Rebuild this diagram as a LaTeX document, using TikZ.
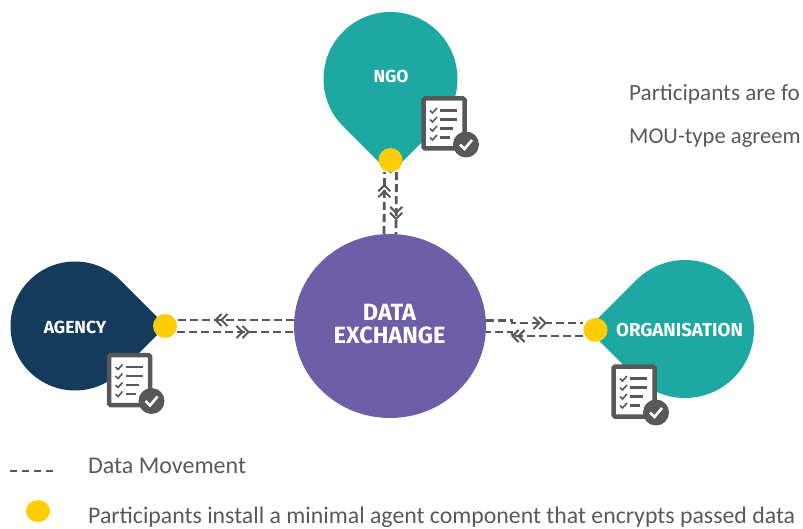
\documentclass[tikz,border=0pt]{standalone}
\usepackage{fontspec}
\setmainfont{Carlito}
\newfontfamily\labelfont{Fira Sans}
\usetikzlibrary{positioning, shapes.geometric, arrows.meta, decorations.markings}
\definecolor{teal}{HTML}{1DA9A1}
\definecolor{navy}{HTML}{143A5C}
\definecolor{violet}{HTML}{6E5EA8}
\definecolor{amber}{HTML}{FFCD05}
\definecolor{iconGrey}{HTML}{58585A}
\definecolor{textGrey}{HTML}{595959}
\tikzset{
    title/.style={text=white, font=\labelfont\bfseries\fontsize{17.5}{17.5}\selectfont},
    note/.style={anchor=base west, inner sep=0pt, text=textGrey, font=\fontsize{23.2}{24}\selectfont},
    agent/.style={circle, fill=amber, minimum size=24pt, inner sep=0pt},
    dataline/.style={draw=iconGrey, line width=2.8pt, dash pattern=on 8pt off 4pt},
    flow/.style={postaction={decorate, decoration={markings, mark=at position #1 with {%
        \draw[solid, iconGrey, line width=2pt] (-6,-6) -- (0,0) -- (-6,6) (0,-6) -- (6,0) -- (0,6);}}}},
    pics/teardrop/.style={code={%
        \fill[pic actions] (45:#1) arc[start angle=45, end angle=315, radius=#1] -- ({1.414*#1},0) -- cycle;}},
    pics/checklist/.style={code={%
        \draw[iconGrey, fill=white, line width=4.5pt, rounded corners=1.5pt] (-20.5,-25) rectangle (20.5,25);
        \foreach \row/\len in {-13/13, -4/13, 5/9, 14/6} {
            \draw[iconGrey, line width=1.6pt] (-14,\row) -- (-11.5,\row+2.5) -- (-7,\row-2.5);
            \draw[iconGrey, line width=2.4pt] (-4,\row) -- (\len,\row);
        }
        \fill[iconGrey] (22,21) circle (13);
        \draw[white, line width=2.6pt] (16,21) -- (20.5,25.5) -- (28,16.5);}},
}
\begin{document}
\begin{tikzpicture}[x=1pt, y=-1pt]
    \useasboundingbox (0,0) rectangle (803,529);
    \pic[fill=teal, rotate=-90] at (390.5,79) {teardrop=67};
    \pic[fill=navy] at (75,326) {teardrop=64.5};
    \pic[fill=teal, rotate=180] at (685,329) {teardrop=69};
    \node[ellipse, fill=violet, minimum width=192pt, minimum height=184pt, inner sep=0pt] (hub) at (390,326) {};
    \node[title, font=\labelfont\bfseries\fontsize{23.5}{23}\selectfont, align=center] (exchange) at (389.5,324) {DATA\\EXCHANGE};
    \node[title] (ngo) at (391,76) {NGO};
    \node[title] (agency) at (75,327) {AGENCY};
    \node[title, font=\labelfont\bfseries\fontsize{18.7}{18.7}\selectfont] (organisation) at (679.5,330) {ORGANISATION};
    \node[agent] (ngodot) at (390.5,160) {};
    \node[agent] (agencydot) at (165,326) {};
    \node[agent] (orgdot) at (595.5,330) {};

    \coordinate (orgbendup) at (512,320.5);
    \coordinate (orgbendlow) at (512,332);
    \draw[dataline, flow=0.66] ([xshift=6pt]ngodot.south) -- ([xshift=6pt]hub.north);
    \draw[dataline, flow=0.69] ([xshift=-6pt]hub.north) -- ([xshift=-6pt]ngodot.south);
    \draw[dataline, flow=0.62] (hub.west |- 0,320) -- (agencydot.east |- 0,320);
    \draw[dataline, flow=0.56] (agencydot.east |- 0,332) -- (hub.west |- 0,332);
    \draw[dataline, flow=0.56] (hub.east |- orgbendup) -- (orgbendup) -- ++(0,2.5) -- (orgdot.west |- 0,323);
    \draw[dataline, flow=0.64] (orgdot.west |- 0,336) -- ([yshift=-4pt]orgbendlow) -- (orgbendlow) -- (hub.east |- orgbendlow);

    \pic at (444,123.5) {checklist};
    \pic at (129.5,380) {checklist};
    \pic at (634,391.5) {checklist};

    \node[note] (fornote) at (629,101) {Participants are fo};
    \node[note, font=\fontsize{22.6}{24}\selectfont] (moutext) at (629,144) {MOU-type agreem};
    \coordinate (legendstart) at (10,471);
    \coordinate (legendend) at (53,471);
    \draw[iconGrey, line width=2.2pt, dash pattern=on 7pt off 5pt] (legendstart) -- (legendend);
    \node[note, font=\fontsize{24}{24}\selectfont] (movement) at (88,473) {Data Movement};
    \node[ellipse, fill=amber, minimum width=24pt, minimum height=22pt, inner sep=0pt] (legenddot) at (38,511) {};
    \node[note, font=\fontsize{23.8}{24}\selectfont] (install) at (88,523) {Participants install a minimal agent component that encrypts passed data};
\end{tikzpicture}
\end{document}
